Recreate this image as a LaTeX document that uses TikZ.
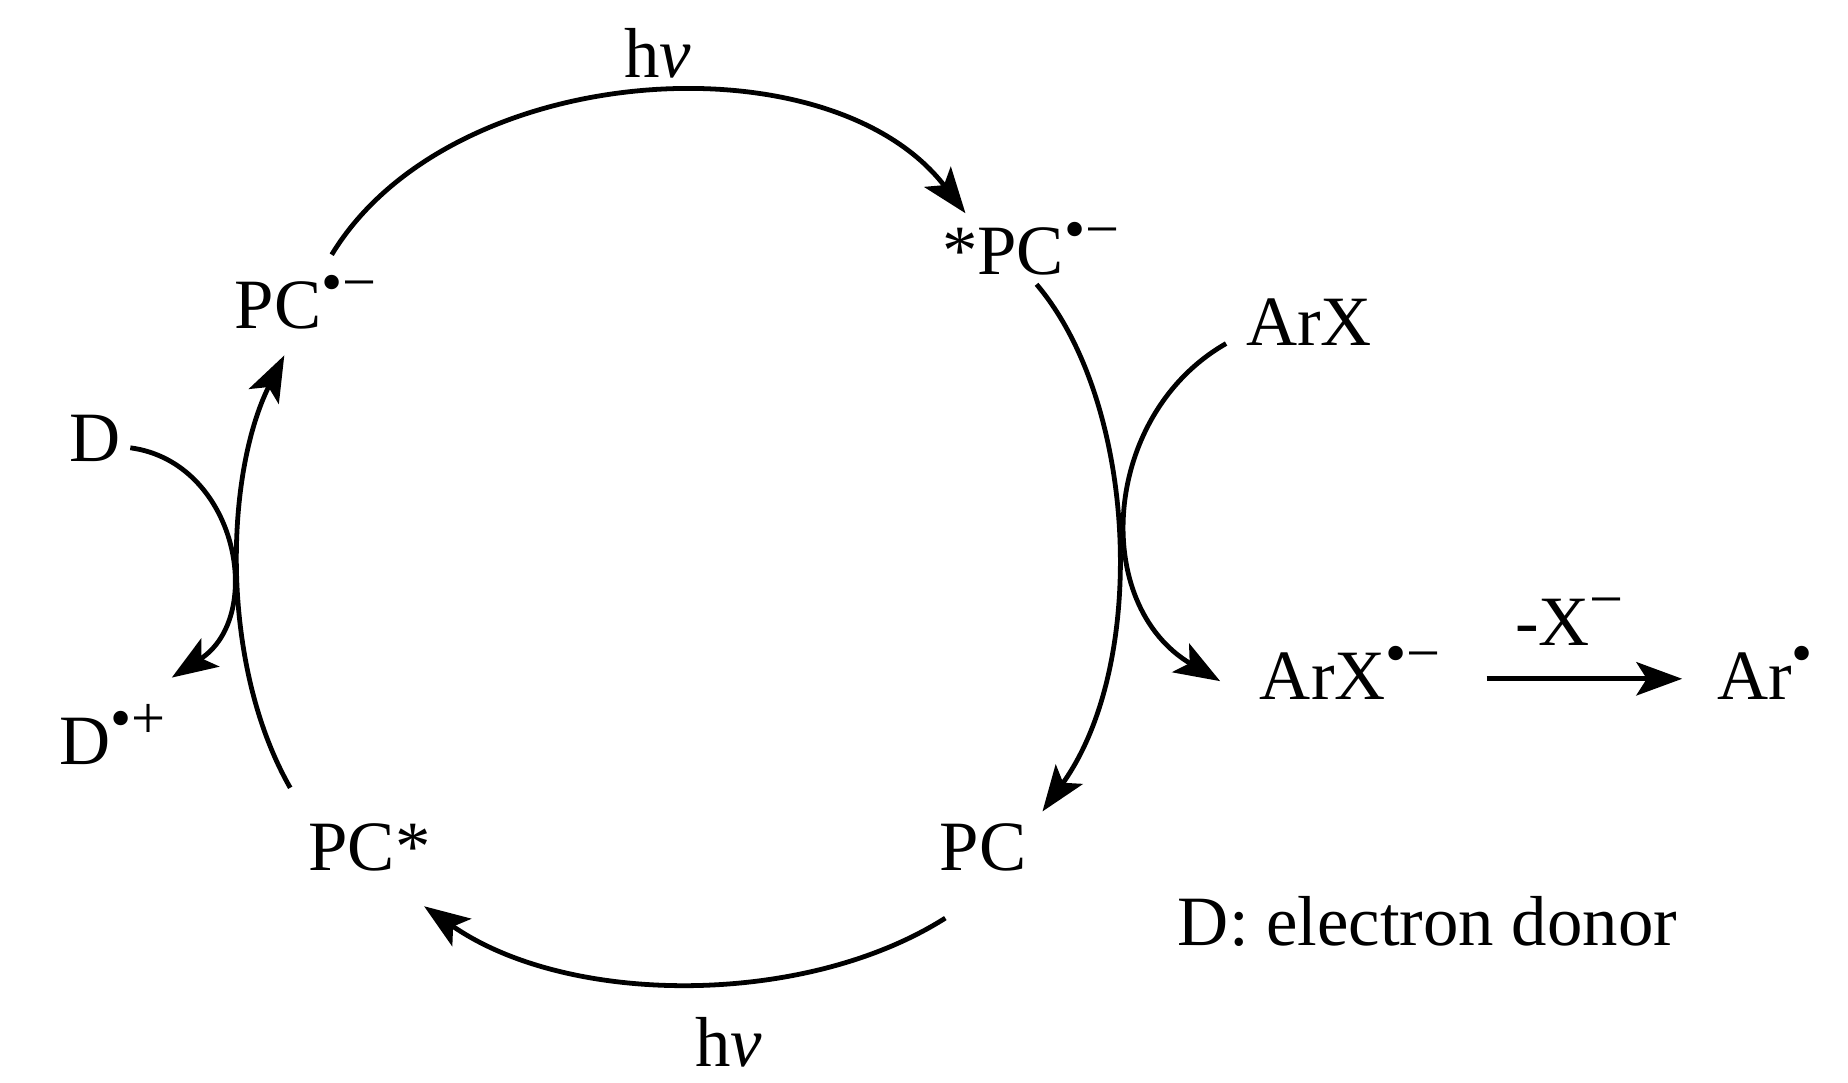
\documentclass[tikz,border=0pt]{standalone}
\usepackage{fontspec}
\usepackage{graphicx}
\setmainfont{Liberation Serif}
\usetikzlibrary{arrows.meta}
\newcommand{\rsup}[1]{\raisebox{0.36em}{\fontsize{29}{29}\selectfont #1}}
\begin{document}
\begin{tikzpicture}[x=0.02cm,y=-0.02cm,
  lbl/.style={font=\fontsize{34}{40}\selectfont, inner sep=0pt},
  arr/.style={line width=2.3pt, -{Stealth[length=22pt,width=16pt,inset=5pt]}}]
\useasboundingbox (0,0) rectangle (1560,914);
\node[lbl] (hv1) at (555,45) {h\textit{v}};
\node[lbl] (pcs) at (870,210) {*PC\rsup{•−}};
\node[lbl] (pcr) at (258,255) {PC\rsup{•−}};
\node[lbl] (arx) at (1105,272) {ArX};
\node[lbl] (d) at (80,370) {D};
\node[lbl] (arxr) at (1140,568) {ArX\rsup{•−}};
\node[lbl] (ar) at (1490,568) {Ar\rsup{•}};
\node[lbl] (x) at (1325,525) {-X\rsup{−}};
\node[lbl] (dp) at (95,620) {D\rsup{•+}};
\node[lbl] (pcst) at (312,715) {PC*};
\node[lbl] (pc) at (830,715) {PC};
\node[lbl] (don) at (1205,778) {D: electron donor};
\node[lbl] (hv2) at (615,880) {h\textit{v}};
\coordinate (a1) at (280,215); \coordinate (a2) at (815,180);
\coordinate (b1) at (875,240); \coordinate (b2) at (880,685);
\coordinate (c1) at (798,775); \coordinate (c2) at (358,765);
\coordinate (e1) at (245,665); \coordinate (e2) at (240,300);
\coordinate (f1) at (1035,290); \coordinate (f2) at (1030,575);
\coordinate (g1) at (110,378); \coordinate (g2) at (145,572);
\coordinate (h1) at (1255,573); \coordinate (h2) at (1420,573);
\draw[arr] (a1) .. controls (380,50) and (700,30) .. (a2);
\draw[arr] (b1) .. controls (960,340) and (970,560) .. (b2);
\draw[arr] (c1) .. controls (680,850) and (480,850) .. (c2);
\draw[arr] (e1) .. controls (185,560) and (190,400) .. (e2);
\draw[arr] (f1) .. controls (930,350) and (920,510) .. (f2);
\draw[arr] (g1) .. controls (200,390) and (225,520) .. (g2);
\draw[arr] (h1) -- (h2);
\end{tikzpicture}
\end{document}
